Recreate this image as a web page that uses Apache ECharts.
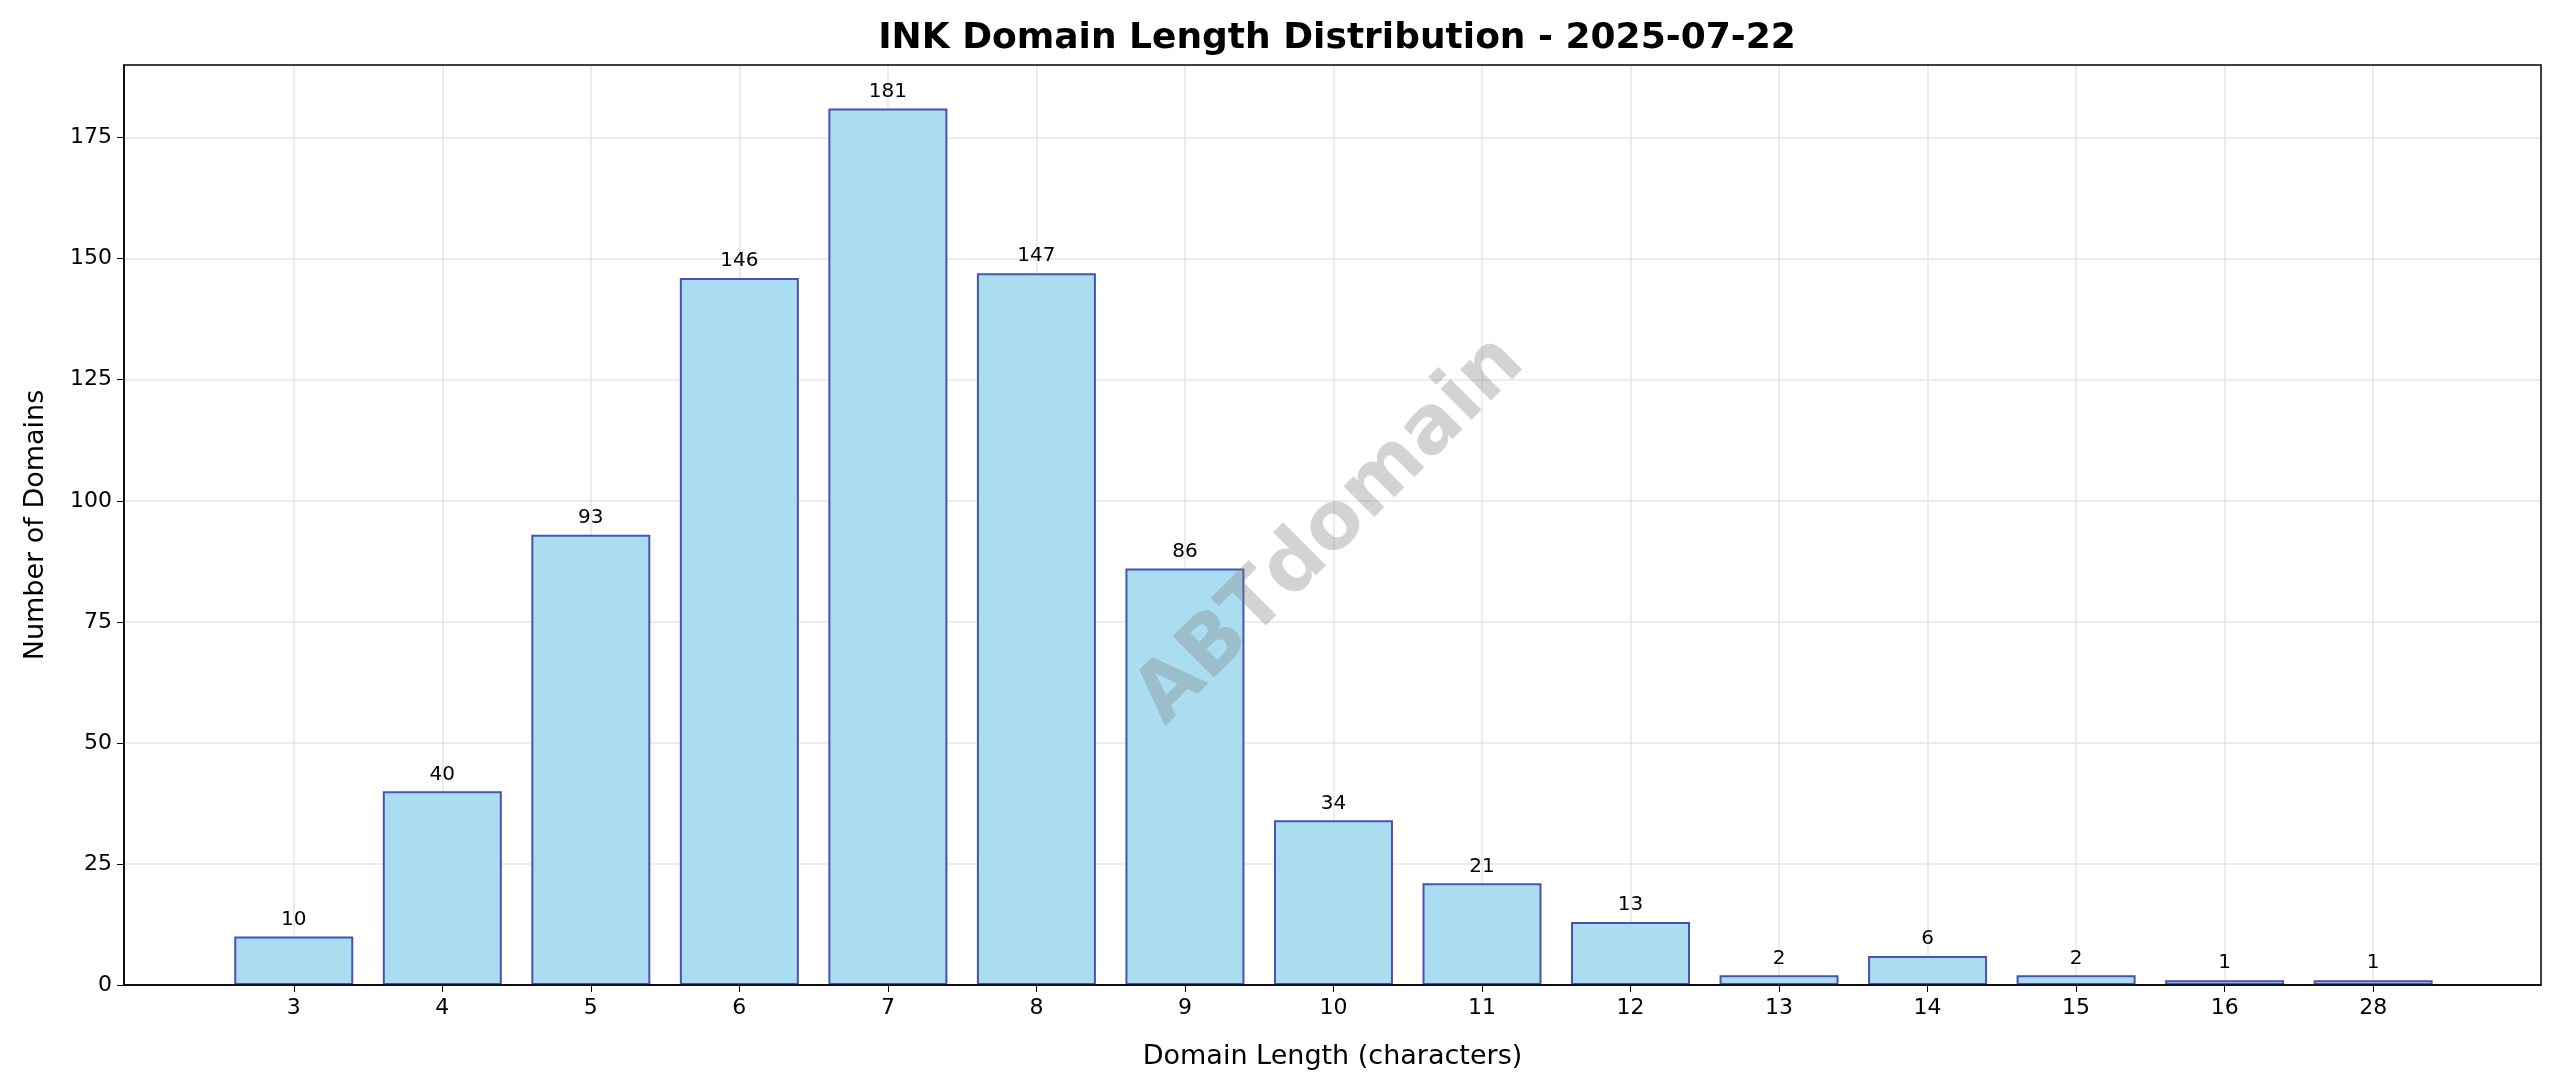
<!DOCTYPE html>
<html><head><meta charset="utf-8">
<script src="https://cdn.jsdelivr.net/npm/echarts@6/dist/echarts.min.js"></script>
<style>html,body{margin:0;padding:0;background:#fff}#c{width:2560px;height:1088px}</style>
</head><body><div id="c"></div>
<script>
const categories = ['3','4','5','6','7','8','9','10','11','12','13','14','15','16','28'];
const counts = [10,40,93,146,181,147,86,34,21,13,2,6,2,1,1];
const yTicks = [0,25,50,75,100,125,150,175];
const chart = echarts.init(document.getElementById('c'));
const idx = categories.map((_, i) => i);
const G = {left: 124, top: 65, right: 19, bottom: 103};
chart.setOption({
  backgroundColor: '#fff',
  animation: false,
  textStyle: {fontFamily: 'DejaVu Sans'},
  title: {text: 'INK Domain Length Distribution - 2025-07-22', left: 1332, top: 16, textAlign: 'center',
    textStyle: {fontSize: 36, fontWeight: 'bold', color: '#000', fontFamily: 'DejaVu Sans'}},
  grid: G,
  xAxis: {type: 'value', min: -1.143, max: 15.13,
    name: 'Domain Length (characters)', nameLocation: 'middle', nameGap: 58,
    nameTextStyle: {fontSize: 27, color: '#000'},
    axisLine: {show: true, onZero: false, lineStyle: {color: '#000', width: 1.5}},
    axisTick: {show: true, customValues: idx, length: 7, lineStyle: {color: '#000'}},
    axisLabel: {customValues: idx, fontSize: 22, color: '#000', margin: 12,
      formatter: v => categories[Math.round(v)]},
    splitLine: {show: true, customValues: idx, lineStyle: {color: '#e6e6e6', width: 1.5}}
  },
  yAxis: {type: 'value', min: 0, max: 190, interval: 25,
    name: 'Number of Domains', nameLocation: 'middle', nameGap: 75,
    nameTextStyle: {fontSize: 27, color: '#000'},
    axisLine: {show: true, onZero: false, lineStyle: {color: '#000', width: 1.5}},
    axisTick: {show: true, customValues: yTicks, length: 7, lineStyle: {color: '#000'}},
    axisLabel: {fontSize: 22, color: '#000', margin: 12, customValues: yTicks},
    splitLine: {show: true, lineStyle: {color: '#e6e6e6', width: 1.5}}
  },
  series: [{type: 'bar', barWidth: 119,
    data: counts.map((v, i) => [i, v]),
    itemStyle: {color: '#abddf1', borderColor: '#4a52b0', borderWidth: 2},
    label: {show: true, position: 'top', distance: 7, fontSize: 20, color: '#000',
      formatter: p => p.value[1]}
  }],
  graphic: [
    {type: 'rect', z: 50, silent: true,
      shape: {x: G.left, y: G.top, width: 2560 - G.left - G.right, height: 1088 - G.top - G.bottom},
      style: {fill: 'none', stroke: '#000', lineWidth: 1.5}},
    {type: 'text', z: 100, rotation: Math.PI/4, x: 1331, y: 531,
      style: {text: 'ABTdomain', font: 'bold 80px DejaVu Sans', fill: 'rgba(128,128,128,0.35)',
        align: 'center', verticalAlign: 'middle'}}]
});
</script></body></html>
